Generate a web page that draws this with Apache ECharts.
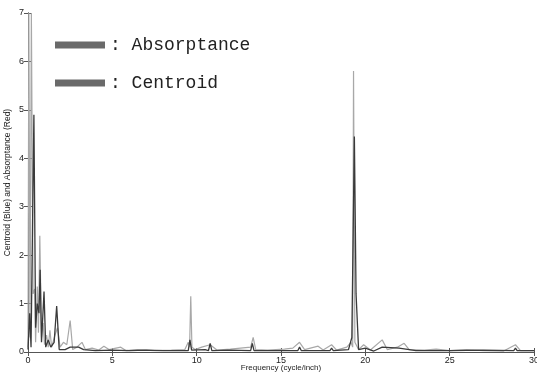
<!DOCTYPE html>
<html>
<head>
<meta charset="utf-8">
<script src="https://cdn.jsdelivr.net/npm/echarts@6/dist/echarts.min.js"></script>
<style>
  html, body { margin: 0; padding: 0; background: #fff; }
  #chart { width: 537px; height: 376px; }
</style>
</head>
<body>
<div id="chart"></div>
<script>
// 频谱数据
const freqAbs = [0, 0.05, 0.12, 0.2, 0.3, 0.4, 0.45, 0.55, 0.62, 0.7, 0.8, 0.9, 0.98, 1.1, 1.2, 1.3, 1.4, 1.6, 1.75, 1.9,
  2.1, 2.3, 2.5, 2.65, 2.9, 3.2, 3.4, 3.8, 4.2, 4.5, 4.8, 5.5, 5.8, 6.5, 7.5, 8.5, 9.3, 9.5, 9.58, 9.65, 9.72,
  9.9, 10.3, 10.8, 11.2, 12, 12.6, 13.2, 13.35, 13.5, 14.2, 15.2, 15.7, 16.1, 16.4, 17.2, 17.5, 18.0, 18.3, 18.9, 19.15,
  19.25, 19.3, 19.38, 19.6, 19.9, 20.3, 21.0, 21.3, 21.9, 22.3, 22.6, 23.5, 24.2, 25, 26, 27, 28.2, 28.9, 29.2, 30];
const absorptance = [0.1, 7.0, 0.3, 7.0, 1.2, 1.3, 0.2, 1.35, 0.4, 2.4, 0.3, 0.6, 0.15, 0.35, 0.1, 0.45, 0.1, 0.35, 0.5, 0.1,
  0.2, 0.15, 0.65, 0.05, 0.1, 0.2, 0.05, 0.08, 0.04, 0.12, 0.05, 0.1, 0.03, 0.05, 0.03, 0.04, 0.05, 0.2, 0.1, 1.15, 0.1,
  0.05, 0.1, 0.15, 0.04, 0.06, 0.08, 0.1, 0.3, 0.05, 0.04, 0.06, 0.08, 0.2, 0.05, 0.12, 0.04, 0.15, 0.04, 0.1, 0.2,
  0.1, 5.8, 0.2, 0.05, 0.15, 0.04, 0.25, 0.05, 0.1, 0.18, 0.05, 0.04, 0.06, 0.03, 0.05, 0.03, 0.02, 0.15, 0.03, 0.03];

const freqCen = [0, 0.1, 0.18, 0.35, 0.45, 0.55, 0.65, 0.72, 0.8, 0.95, 1.05, 1.2, 1.35, 1.55, 1.7, 1.85, 2.2, 2.5, 3.0, 3.3,
  4, 5, 6, 7, 8, 9.0, 9.5, 9.6, 9.7, 10.5, 10.7, 10.8, 10.9, 12, 13.2, 13.3, 13.4, 14.5, 16.0, 16.1, 16.2, 17.9, 18, 18.1, 19.0,
  19.2, 19.35, 19.45, 19.6, 20, 20.5, 21, 22, 23, 25, 27, 28.8, 28.9, 29.0, 30];
const centroid = [0.05, 0.8, 0.1, 4.9, 0.5, 1.0, 0.8, 1.7, 0.2, 1.25, 0.1, 0.25, 0.1, 0.2, 0.95, 0.05, 0.05, 0.1, 0.1, 0.05,
  0.03, 0.04, 0.03, 0.04, 0.03, 0.03, 0.03, 0.25, 0.04, 0.05, 0.03, 0.18, 0.03, 0.04, 0.03, 0.18, 0.03, 0.03, 0.03, 0.1, 0.03, 0.03, 0.08, 0.03, 0.05,
  0.3, 4.45, 1.2, 0.05, 0.08, 0.02, 0.1, 0.08, 0.03, 0.03, 0.04, 0.03, 0.08, 0.03, 0.03];

const xTicks = [0, 5, 10, 15, 20, 25, 30];
const yTicks = [0, 1, 2, 3, 4, 5, 6, 7];

const myChart = echarts.init(document.getElementById('chart'));

const axisFont = { color: '#222', fontSize: 9, fontFamily: 'Liberation Sans' };
const frame = { show: true, lineStyle: { color: '#555', width: 1 } };
const tick = { show: true, inside: true, length: 4, lineStyle: { color: '#555' } };

const option = {
  animation: false,
  backgroundColor: '#fff',
  grid: { left: 28, right: 3, top: 13, bottom: 24, outerBoundsMode: 'none' },
  legend: {
    orient: 'vertical',
    left: 50,
    top: 30,
    itemWidth: 50,
    itemHeight: 7,
    itemGap: 18,
    icon: 'rect',
    data: [
      { name: 'Absorptance', itemStyle: { color: '#6a6a6a' } },
      { name: 'Centroid', itemStyle: { color: '#6a6a6a' } }
    ],
    formatter: name => ': ' + name,
    textStyle: { color: '#222', fontSize: 18, lineHeight: 20, fontFamily: 'Liberation Mono' }
  },
  xAxis: [
    {
      type: 'value',
      min: xTicks[0],
      max: xTicks[xTicks.length - 1],
      interval: 5,
      name: 'Frequency (cycle/inch)',
      nameLocation: 'middle',
      nameGap: 12,
      nameMoveOverlap: false,
      nameTextStyle: { color: '#222', fontSize: 8, fontFamily: 'Liberation Sans' },
      axisLine: frame,
      axisTick: tick,
      axisLabel: Object.assign({ margin: 4 }, axisFont),
      splitLine: { show: false }
    },
    {
      type: 'value',
      position: 'top',
      min: xTicks[0],
      max: xTicks[xTicks.length - 1],
      interval: 5,
      axisLine: frame,
      axisTick: tick,
      axisLabel: { show: false },
      splitLine: { show: false }
    }
  ],
  yAxis: [
    {
      type: 'value',
      min: yTicks[0],
      max: yTicks[yTicks.length - 1],
      interval: 1,
      name: 'Centroid (Blue) and Absorptance (Red)',
      nameLocation: 'middle',
      nameGap: 16,
      nameMoveOverlap: false,
      nameTextStyle: { color: '#222', fontSize: 8.5, fontFamily: 'Liberation Sans' },
      axisLine: frame,
      axisTick: tick,
      axisLabel: Object.assign({ margin: 4 }, axisFont),
      splitLine: { show: false }
    },
    {
      type: 'value',
      position: 'right',
      min: yTicks[0],
      max: yTicks[yTicks.length - 1],
      interval: 1,
      axisLine: frame,
      axisTick: tick,
      axisLabel: { show: false },
      splitLine: { show: false }
    }
  ],
  series: [
    {
      name: 'Absorptance',
      type: 'line',
      data: freqAbs.map((f, i) => [f, absorptance[i]]),
      showSymbol: false,
      lineStyle: { color: '#a8a8a8', width: 1.2 },
      itemStyle: { color: '#a8a8a8' },
      z: 2
    },
    {
      name: 'Centroid',
      type: 'line',
      data: freqCen.map((f, i) => [f, centroid[i]]),
      showSymbol: false,
      lineStyle: { color: '#3a3a3a', width: 1.3 },
      itemStyle: { color: '#3a3a3a' },
      z: 3
    }
  ]
};

myChart.setOption(option);
</script>
</body>
</html>
